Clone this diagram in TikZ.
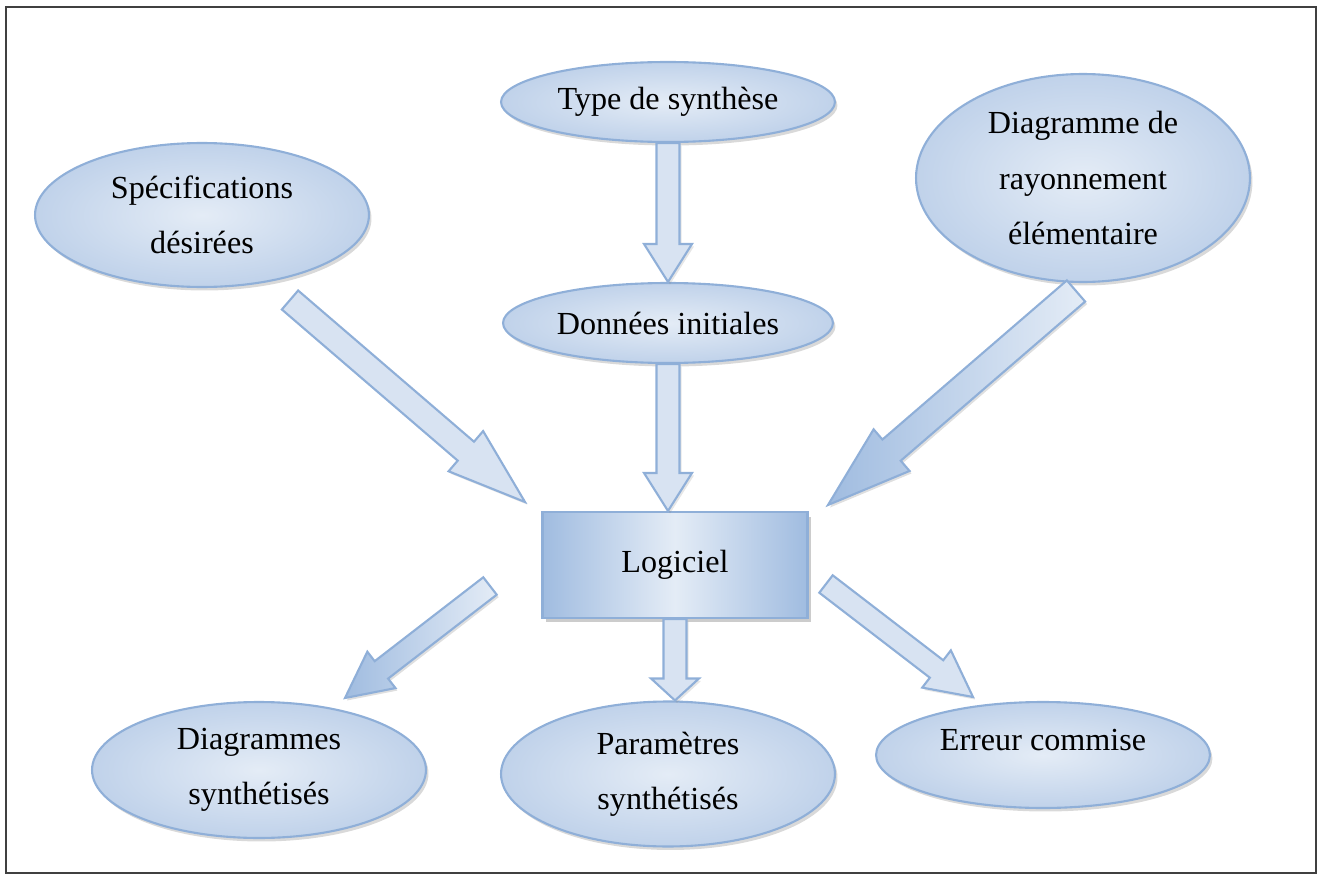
\documentclass[tikz,border=0pt]{standalone}
\usepackage{fontspec}
\setmainfont{Liberation Serif}
\usetikzlibrary{shapes.geometric,shadows,calc}

\definecolor{bordbleu}{RGB}{143,175,216}
\definecolor{bleuclair}{RGB}{228,236,246}
\definecolor{bleumoyen}{RGB}{192,210,234}
\definecolor{bleupale}{RGB}{216,227,242}
\definecolor{bleufonce}{RGB}{160,188,224}

\tikzset{
  bulle/.style={ellipse, draw=bordbleu, line width=1.2pt, inner sep=0pt,
    inner color=bleuclair, outer color=bleumoyen,
    drop shadow={shadow xshift=0.05cm, shadow yshift=-0.07cm, opacity=0.3},
    minimum width=6.68cm, align=center, font=\fontsize{18.3}{31.5}\selectfont},
  boite/.style={rectangle, draw=bordbleu, line width=1.2pt,
    shading=axis, left color=bleufonce, right color=bleufonce, middle color=bleuclair,
    drop shadow={shadow xshift=0.07cm, shadow yshift=-0.09cm, opacity=0.4},
    minimum width=5.3cm, minimum height=2.12cm, font=\fontsize{18.3}{31.5}\selectfont},
  flecheclaire/.style={draw=bordbleu, line width=1.2pt, fill=bleupale,
    drop shadow={shadow xshift=0.04cm, shadow yshift=-0.05cm, opacity=0.2}},
  flechefoncee/.style={draw=bordbleu, line width=1.2pt,
    left color=bleufonce, right color=bleuclair,
    drop shadow={shadow xshift=0.04cm, shadow yshift=-0.05cm, opacity=0.25}}
}

% #2 queue, #3 pointe, #4 demi-largeur du corps, #5 demi-largeur de la tete, #6 longueur de la tete
\newcommand{\flechebloc}[6][flecheclaire]{%
  \coordinate (base) at ($(#3)!#6!(#2)$);
  \filldraw[#1] ($(#2)!#4!90:(#3)$) -- ($(base)!#4!90:(#3)$) -- ($(base)!#5!90:(#3)$)
    -- (#3) -- ($(base)!#5!-90:(#3)$) -- ($(base)!#4!-90:(#3)$) -- ($(#2)!#4!-90:(#3)$) -- cycle;
}

\begin{document}
\begin{tikzpicture}[x=0.02cm, y=-0.02cm]

\useasboundingbox (0,0) rectangle (1323,879);

% cadre
\draw[line width=0.8pt, black!75] (6,7) rectangle (1316,873);

% entrees
\node[bulle, minimum height=2.88cm] (spec) at (202,215) {Spécifications\\désirées};
\node[bulle, minimum height=1.6cm] (type) at (668,102) {Type de synthèse};
\node[bulle, minimum height=1.6cm, minimum width=6.6cm] (donnees) at (668,323) {Données initiales};
\node[bulle, minimum height=4.16cm] (rayonnement) at (1083,178) {Diagramme de\\rayonnement\\élémentaire};

% logiciel
\node[boite] (logiciel) at (675,565) {Logiciel};

% sorties
\node[bulle, minimum height=2.72cm] (diagrammes) at (259,770) {Diagrammes\\synthétisés};
\node[bulle, minimum height=2.9cm] (parametres) at (668,774) {Paramètres\\synthétisés};
\node[bulle, minimum height=2.12cm] (erreur) at (1043,755) {};
\node[font=\fontsize{18.3}{31.5}\selectfont] (erreurtxt) at ([yshift=0.3cm]erreur.center) {Erreur commise};

% fleches verticales
\coordinate (logicielhaut) at (donnees.south |- logiciel.north);
\coordinate (parametreshaut) at (logiciel.south |- parametres.north);
\flechebloc{type.south}{donnees.north}{0.23cm}{0.48cm}{0.76cm}
\flechebloc{donnees.south}{logicielhaut}{0.23cm}{0.48cm}{0.76cm}
\flechebloc{logiciel.south}{parametreshaut}{0.23cm}{0.48cm}{0.44cm}

% fleches obliques
\coordinate (specqueue) at (290,300);
\coordinate (specpointe) at (525,502);
\coordinate (rayqueue) at (1076,291);
\coordinate (raypointe) at (828,505);
\coordinate (diagqueue) at (490,586);
\coordinate (diagpointe) at (345,698);
\coordinate (errqueue) at (826,584);
\coordinate (errpointe) at (973,697);

\flechebloc{specqueue}{specpointe}{0.25cm}{0.53cm}{1.56cm}
\flechebloc[flechefoncee]{rayqueue}{raypointe}{0.28cm}{0.55cm}{1.68cm}
\flechebloc[flechefoncee]{diagqueue}{diagpointe}{0.22cm}{0.46cm}{0.92cm}
\flechebloc{errqueue}{errpointe}{0.22cm}{0.47cm}{0.92cm}

\end{tikzpicture}
\end{document}
